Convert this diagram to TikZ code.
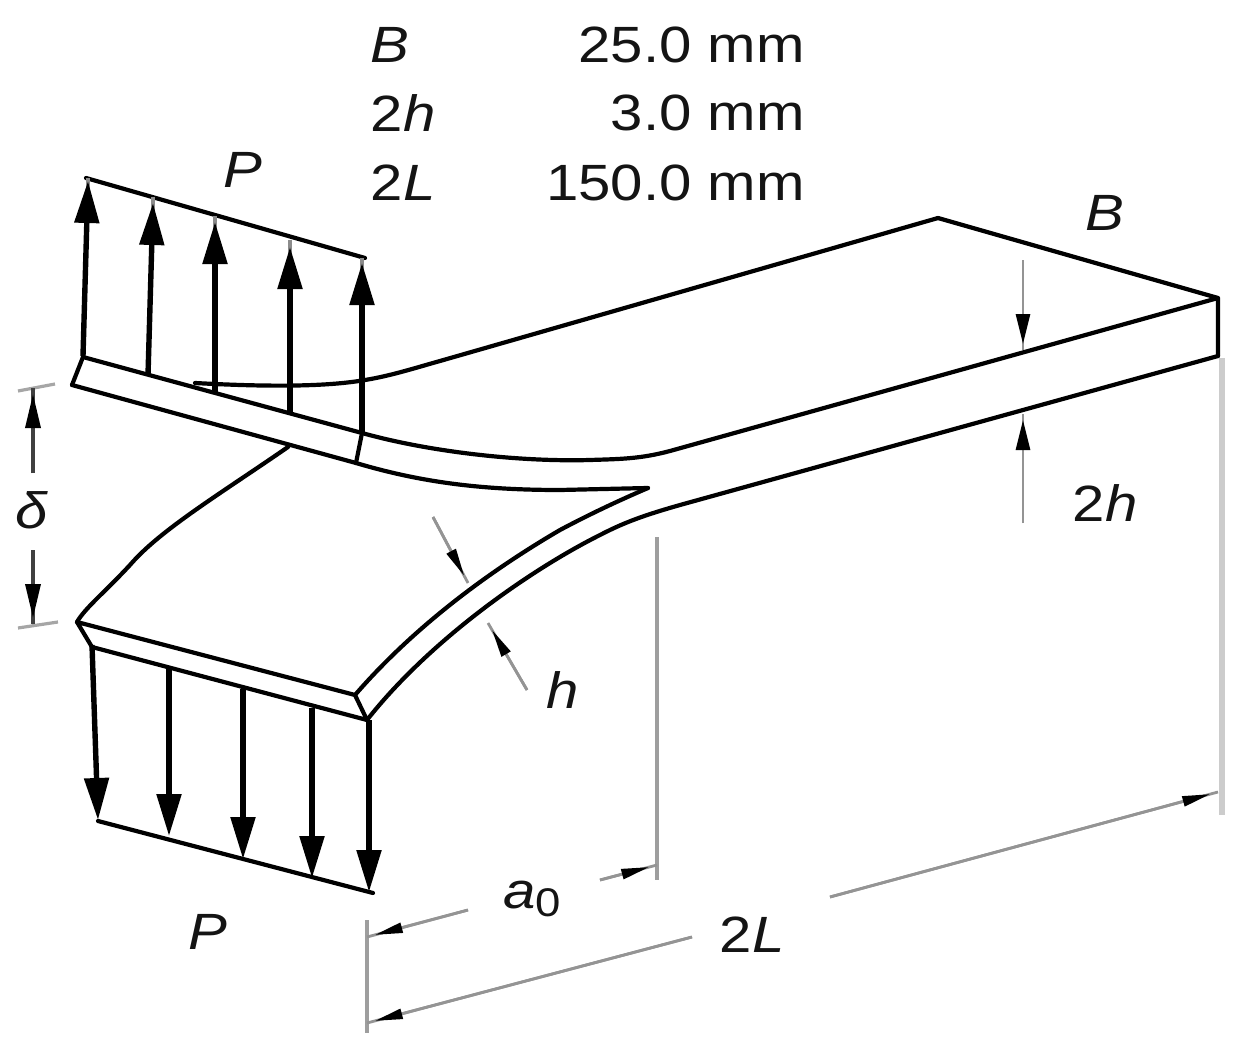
\documentclass[tikz,border=0pt]{standalone}
\usepackage{fontspec}
\setmainfont{Liberation Sans}
\usetikzlibrary{arrows.meta}
\tikzset{
  edge/.style={line width=2.1pt,black,line cap=round,line join=round},
  load/.style={line width=2.7pt,black,-{Triangle[width=12pt,length=21pt]}},
  stub/.style={line width=1.6pt,black!45},
  dim/.style={line width=2pt,black!38},
  dimlight/.style={line width=3pt,black!20},
  dimthin/.style={line width=1.4pt,black!42},
  dimar/.style={dimthin,postaction={draw,shorten >=4pt,-{Triangle[width=5pt,length=14pt,color=black]}}},
  dimvert/.style={line width=1.4pt,black!42,postaction={draw,shorten >=3pt,-{Triangle[width=7pt,length=15pt,color=black]}}},
  deltaar/.style={line width=1.7pt,black!75,postaction={draw,shorten >=3pt,-{Triangle[width=7.5pt,length=17pt,color=black]}}},
  tick/.style={line width=1.6pt,black!35},
  lbl/.style={inner sep=0pt,xscale=1.14,transform shape,font=\fontsize{25.5}{30}\selectfont,text=black!92},
  lit/.style={lbl,font=\fontsize{25.5}{30}\selectfont\itshape}
}
\begin{document}
\begin{tikzpicture}[x=0.5pt,y=-0.5pt]
\useasboundingbox (0,0) rectangle (1244,1049);
% grey dimension lines
\draw[dim] (657,537) -- (657,880);
\draw[dimlight] (1222,358) -- (1222,815);
\draw[dim] (367,920) -- (367,1033);
\draw[tick] (18,391) -- (55,384);
\draw[tick] (18,628) -- (58,622);
\draw[dimar] (468,910) -- (367,937);
\draw[dimar] (600,880) -- (657,865);
\draw[dimar] (692,937) -- (367,1023);
\draw[dimar] (830,897) -- (1218,792);
\draw[dimar] (433,517) -- (468,583);
\draw[dimar] (527,690) -- (488,623);
\draw[deltaar] (33,473) -- (33,388);
\draw[deltaar] (33,550) -- (33,624);
\draw[dimvert] (1023,260) -- (1023,350);
\draw[dimvert] (1023,523) -- (1023,414);
% upper arm and uncracked part
\draw[edge] (938,218) -- (1218,298) -- (1218,356);
\draw[edge] (195,383) .. controls (250,386) and (320,388) .. (365,380) .. controls (390,376) and (415,368) .. (440,361) -- (938,218);
\draw[edge] (72,385) -- (83,357) -- (362,433) .. controls (430,452) and (520,462) .. (590,460) .. controls (620,459) and (640,459) .. (670,451) -- (1218,298);
\draw[edge] (72,385) -- (356,463) .. controls (420,482) and (480,490) .. (560,490) -- (648,488);
\draw[edge] (362,433) -- (356,463);
% lower arm
\draw[edge] (288,447) .. controls (220,494) and (160,530) .. (130,565) .. controls (105,592) and (85,608) .. (77,622);
\draw[edge] (77,622) -- (355,695) -- (367,720) -- (92,647) -- cycle;
\draw[edge] (355,695) .. controls (420,620) and (500,565) .. (560,530) .. controls (590,514) and (620,500) .. (648,488);
\draw[edge] (367,720) .. controls (430,640) and (530,570) .. (600,535) .. controls (625,522) and (645,515) .. (680,505) -- (1218,356);
% load lines
\draw[edge] (86,178) -- (365,258);
\draw[edge] (98,821) -- (373,893);
\draw[stub] (88,190) -- (88,178);
\draw[stub] (153,210) -- (153,197);
\draw[stub] (215,230) -- (215,216);
\draw[stub] (290,255) -- (290,240);
\draw[stub] (362,270) -- (362,258);
\draw[load] (83,356) -- (88,181);
\draw[load] (148,375) -- (153,203);
\draw[load] (215,393) -- (215,222);
\draw[load] (290,413) -- (290,247);
\draw[load] (362,433) -- (362,263);
\draw[load] (92,645) -- (98,820);
\draw[load] (169,667) -- (169,836);
\draw[load] (243,689) -- (243,859);
\draw[load] (312,708) -- (312,878);
\draw[load] (369,720) -- (369,892);
% labels
\node[lit] (tB) at (390,45) {B};
\node[lbl] (t2h) at (403,113) {2\textit{h}};
\node[lbl] (t2L) at (403,183) {2\textit{L}};
\node[lbl,anchor=east] (v1) at (805,45) {25.0 mm};
\node[lbl,anchor=east] (v2) at (805,113) {3.0 mm};
\node[lbl,anchor=east] (v3) at (805,183) {150.0 mm};
\node[lit] (lP1) at (243,170) {P};
\node[lit] (lB) at (1105,213) {B};
\node[lbl] (l2h) at (1105,503) {2\textit{h}};
\node[lit] (ld) at (32,510) {δ};
\node[lit] (lh) at (563,690) {h};
\node[lbl] (la) at (532,899) {\textit{a}\raisebox{-0.3ex}{\fontsize{20}{22}\selectfont 0}};
\node[lbl] (l2L) at (752,935) {2\textit{L}};
\node[lit] (lP2) at (208,932) {P};
\end{tikzpicture}
\end{document}
